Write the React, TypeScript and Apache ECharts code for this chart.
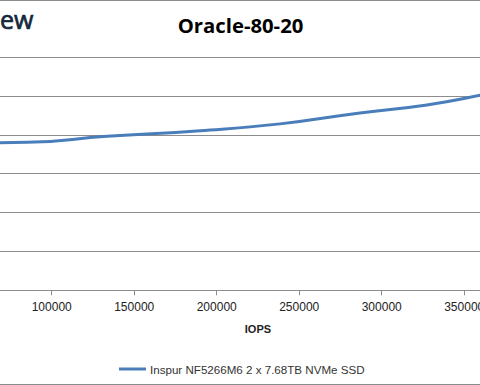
import React, { useEffect, useRef } from "react";
import * as echarts from "echarts";

const titleText = "Oracle-80-20";
const xAxisName = "IOPS";
const seriesName = "Inspur NF5266M6 2 x 7.68TB NVMe SSD";
const iops = [40000, 85000, 133500, 189900, 238400, 286800, 327400, 359600, 385000];
const latency = [0.758, 0.761, 0.792, 0.821, 0.856, 0.912, 0.953, 1.003, 1.05];
const xMin = 50000;
const xMax = 400000;
const xStep = 50000;
const yMin = 0;
const yMax = 1.2;
const yStep = 0.2;

const OFF = 100; // container shift to the left (page crop)

export default function App() {
  const ref = useRef<HTMLDivElement>(null);
  useEffect(() => {
    if (!ref.current) return;
    const chart = echarts.init(ref.current, null, { renderer: "svg" });
    const gray = "#8c8c8c";
    chart.setOption({
      animation: false,
      backgroundColor: "#ffffff",
      grid: { left: 69.2, right: 53.3, top: 57, bottom: 94.7, containLabel: false },
      xAxis: {
        type: "value",
        min: xMin,
        max: xMax,
        interval: xStep,
        name: xAxisName,
        nameLocation: "middle",
        nameGap: 33,
        nameTextStyle: { fontFamily: "Liberation Sans", fontWeight: "bold", fontSize: 11, color: "#222" },
        axisLine: { show: true, lineStyle: { color: gray, width: 1 } },
        axisTick: { show: true, length: 5, lineStyle: { color: gray } },
        axisLabel: {
          show: true,
          margin: 11,
          fontFamily: "Liberation Sans",
          fontSize: 12,
          color: "#222",
          showMinLabel: false,
          showMaxLabel: false,
          formatter: (v: number) => String(v),
        },
        splitLine: { show: false },
      },
      yAxis: {
        type: "value",
        min: yMin,
        max: yMax,
        interval: yStep,
        axisLine: { show: false },
        axisTick: { show: false },
        axisLabel: { show: false },
        splitLine: { show: true, lineStyle: { color: gray, width: 1 } },
      },
      legend: {
        show: true,
        left: 114 + OFF,
        top: 358,
        icon: "rect",
        itemWidth: 27,
        itemHeight: 3,
        itemGap: 10,
        textStyle: { fontFamily: "Liberation Sans", fontSize: 11.6, color: "#333", padding: [0, 0, 0, -1] },
        data: [seriesName],
      },
      series: [
        {
          name: seriesName,
          type: "line",
          data: iops.map((v, i) => [v, latency[i]]),
          smooth: 0.5,
          symbol: "none",
          showSymbol: false,
          lineStyle: { color: "#4a7ebb", width: 3 },
          itemStyle: { color: "#4a7ebb" },
        },
      ],
      graphic: [
        {
          type: "text",
          x: 240.5 + OFF,
          y: 25,
          style: {
            text: titleText,
            fontFamily: "Open Sans",
            fontWeight: "bold",
            fontSize: 20.3,
            fill: "#000",
            align: "center",
            verticalAlign: "middle",
          },
        },
        {
          type: "text",
          x: 0 + OFF,
          y: 19,
          style: {
            text: "ew",
            fontFamily: "Open Sans",
            fontWeight: "normal",
            fontSize: 25,
            fill: "#14283a",
            stroke: "#14283a",
            lineWidth: 0.7,
            align: "left",
            verticalAlign: "middle",
          },
        },
        {
          type: "line",
          shape: { x1: OFF - 10, y1: 0.5, x2: OFF + 500, y2: 0.5 },
          style: { stroke: gray, lineWidth: 1 },
        },
        {
          type: "line",
          shape: { x1: OFF - 10, y1: 384.5, x2: OFF + 500, y2: 384.5 },
          style: { stroke: gray, lineWidth: 1 },
        },
      ],
    });
    return () => chart.dispose();
  }, []);
  return (
    <div style={{ position: "fixed", left: 0, top: 0, width: 480, height: 385, overflow: "hidden", background: "#fff" }}>
      <div ref={ref} style={{ position: "absolute", left: -OFF, top: 0, width: 700, height: 385 }} />
    </div>
  );
}
